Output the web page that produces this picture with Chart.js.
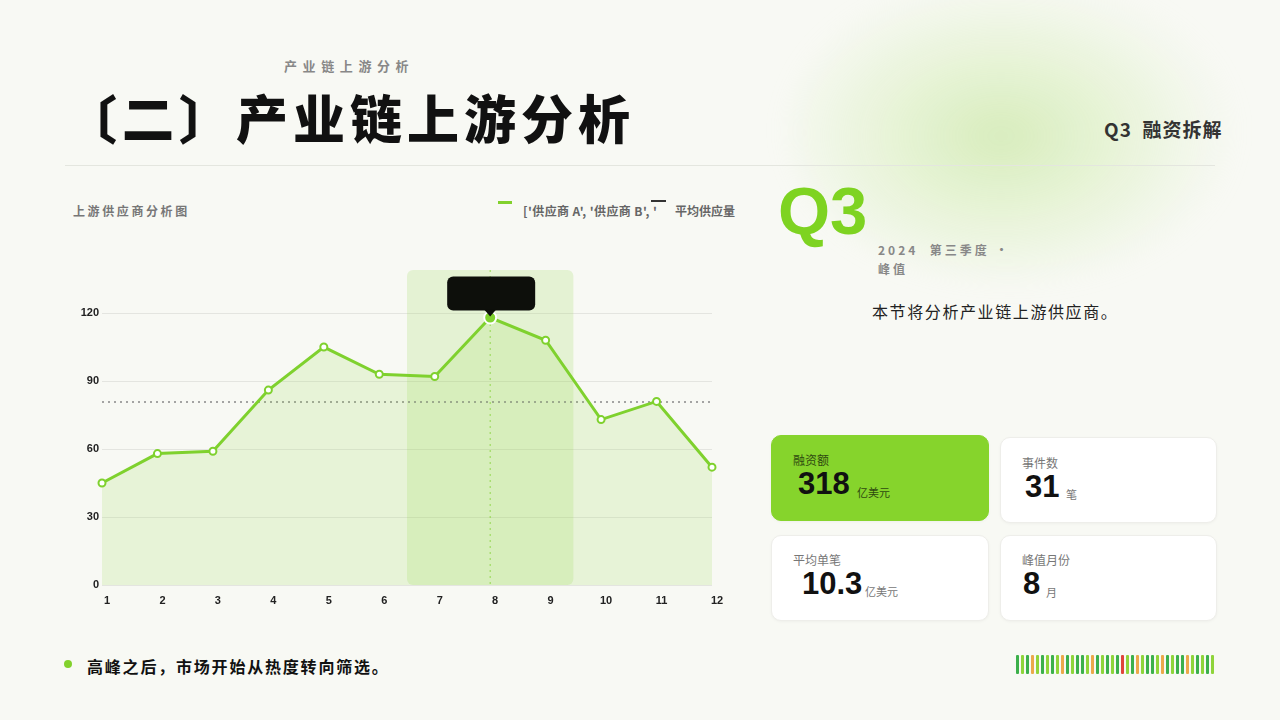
<!DOCTYPE html>
<html>
<head>
<meta charset="utf-8">
<script src="https://cdn.jsdelivr.net/npm/chart.js@4.4.1/dist/chart.umd.min.js"></script>
<style>
  html, body { margin:0; padding:0; }
  body { width:1280px; height:720px; background:#f8f9f4; position:relative; overflow:hidden;
         font-family:"Noto Sans CJK SC","Noto Sans",sans-serif; }
  .abs { position:absolute; white-space:nowrap; }
  .blob { position:absolute; left:790px; top:-20px; width:440px; height:300px; border-radius:50%;
          background:radial-gradient(ellipse at 48% 52%, rgba(175,222,120,0.45) 0%, rgba(195,232,150,0.3) 35%, rgba(222,241,205,0.12) 65%, rgba(248,249,244,0) 82%);
          filter:blur(12px); }
  .card { position:absolute; border-radius:10px; background:#fff; border:1px solid #eeeeea;
          box-shadow:0 1px 3px rgba(0,0,0,0.04); }
  .card.green { background:#86d42c; border-color:#86d42c; }
  .lbl { position:absolute; font-size:12px; color:#777; }
  .num { position:absolute; font-family:"Liberation Sans",Arial,sans-serif; font-weight:bold; font-size:31px; color:#111; }
  .unit { position:absolute; font-size:11px; color:#777; }
  #chartWrap { position:absolute; left:60px; top:250px; width:670px; height:365px; }
  .deco span { position:absolute; top:655px; width:3px; height:19px; border-radius:1px; }
</style>
</head>
<body>
<div class="blob"></div>

<div class="abs" style="left:284px;top:56px;font-size:13px;font-weight:bold;color:#888;letter-spacing:5.6px;">产业链上游分析</div>
<div class="abs" style="left:65px;top:82px;font-size:52px;font-weight:900;color:#111;letter-spacing:5px;line-height:70px;">〔二〕产业链上游分析</div>
<div class="abs" style="left:1104px;top:115px;font-size:19px;font-weight:bold;color:#333;letter-spacing:1px;">Q3&nbsp; 融资拆解</div>
<div class="abs" style="left:65px;top:165px;width:1150px;height:1px;background:#e4e6df;"></div>

<div class="abs" style="left:73px;top:202px;font-size:12px;font-weight:bold;color:#777;letter-spacing:2.6px;">上游供应商分析图</div>
<div class="abs" style="left:498px;top:201px;width:14px;height:3px;background:#82d12c;"></div>
<div class="abs" style="left:523px;top:202px;font-size:12px;font-weight:bold;color:#666;letter-spacing:0.4px;font-family:'Liberation Sans Narrow','Noto Sans CJK SC',sans-serif;">['供应商 A', '供应商 B', '</div>
<div class="abs" style="left:651px;top:200px;width:15px;height:2px;background:#333;"></div>
<div class="abs" style="left:675px;top:202px;font-size:12px;font-weight:bold;color:#666;">平均供应量</div>

<div id="chartWrap"><canvas id="c"></canvas></div>

<div class="abs" style="left:778px;top:166px;font-size:67px;font-weight:bold;color:#7ed321;font-family:'Liberation Sans',Arial,sans-serif;line-height:90px;">Q3</div>
<div class="abs" style="left:878px;top:240px;font-size:12px;font-weight:bold;color:#888;letter-spacing:3px;line-height:19px;">2024&nbsp; 第三季度 ·<br>峰值</div>
<div class="abs" style="left:872px;top:299px;font-size:16px;color:#222;letter-spacing:1.6px;">本节将分析产业链上游供应商。</div>

<div class="card green" style="left:771px;top:435px;width:216px;height:84px;"></div>
<div class="lbl" style="left:793px;top:451px;color:#2f4a10;">融资额</div>
<div class="num" style="left:798px;top:466px;">318</div>
<div class="unit" style="left:857px;top:484px;color:#2f4a10;">亿美元</div>

<div class="card" style="left:1000px;top:437px;width:215px;height:84px;"></div>
<div class="lbl" style="left:1022px;top:454px;">事件数</div>
<div class="num" style="left:1025px;top:469px;">31</div>
<div class="unit" style="left:1066px;top:486px;">笔</div>

<div class="card" style="left:771px;top:535px;width:216px;height:84px;"></div>
<div class="lbl" style="left:793px;top:551px;">平均单笔</div>
<div class="num" style="left:802px;top:566px;">10.3</div>
<div class="unit" style="left:865px;top:583px;">亿美元</div>

<div class="card" style="left:1000px;top:535px;width:215px;height:84px;"></div>
<div class="lbl" style="left:1022px;top:551px;">峰值月份</div>
<div class="num" style="left:1023px;top:566px;">8</div>
<div class="unit" style="left:1046px;top:584px;">月</div>

<div class="abs" style="left:64px;top:660px;width:8px;height:8px;border-radius:50%;background:#82d12c;"></div>
<div class="abs" style="left:87px;top:654px;font-size:16px;font-weight:bold;color:#111;letter-spacing:1.8px;">高峰之后，市场开始从热度转向筛选。</div>

<div class="deco" id="deco"></div>

<script>
// chart data
const months = ['1','2','3','4','5','6','7','8','9','10','11','12'];
const supplyValues = [45, 58, 59, 86, 105, 93, 92, 118, 108, 73, 81, 52];
const avgValues = [80.8, 80.8, 80.8, 80.8, 80.8, 80.8, 80.8, 80.8, 80.8, 80.8, 80.8, 80.8];
const yTicks = [0, 30, 60, 90, 120];
const bandMonths = ['7', '9'];
const peakMonth = '8';

// little stripe row at bottom right
const decoColors = ['d','l','d','o','l','d','l','d','l','o','d','l','d','d','l','o','d','l','d','l',
                    'd','r','l','d','o','l','d','d','l','o','d','l','d','d','o','l','d','l','d','l'];
const decoMap = { d:'#3cb04a', l:'#8fd43a', o:'#eba94a', r:'#e0453a' };

const green = '#7fd12e';

function buildDeco() {
  const el = document.getElementById('deco');
  decoColors.forEach((c, i) => {
    const s = document.createElement('span');
    s.style.left = (1016 + i * 5) + 'px';
    s.style.background = decoMap[c];
    el.appendChild(s);
  });
}

// band + dotted marker behind the line
const bandPlugin = {
  id: 'band',
  beforeDatasetsDraw(chart) {
    const { ctx, chartArea, scales } = chart;
    const x0 = scales.x.getPixelForValue(months.indexOf(bandMonths[0]) - 0.5);
    const x1 = scales.x.getPixelForValue(months.indexOf(bandMonths[1]) + 0.5);
    ctx.save();
    ctx.fillStyle = 'rgba(150,215,80,0.2)';
    ctx.beginPath();
    ctx.roundRect(x0, chartArea.top, x1 - x0, chartArea.bottom - chartArea.top, 6);
    ctx.fill();
    const px = scales.x.getPixelForValue(months.indexOf(peakMonth));
    ctx.strokeStyle = 'rgba(127,209,46,0.8)';
    ctx.setLineDash([2, 4]);
    ctx.lineWidth = 1;
    ctx.beginPath();
    ctx.moveTo(px, chartArea.top);
    ctx.lineTo(px, chartArea.bottom);
    ctx.stroke();
    ctx.restore();
  },
  afterDatasetsDraw(chart) {
    // black callout above the peak
    const { ctx } = chart;
    const i = months.indexOf(peakMonth);
    const pt = chart.getDatasetMeta(0).data[i];
    ctx.save();
    ctx.fillStyle = '#0d0f0b';
    const w = 88, h = 34;
    ctx.beginPath();
    ctx.roundRect(pt.x - 43, pt.y - 41, w, h, 6);
    ctx.fill();
    ctx.beginPath();
    ctx.moveTo(pt.x - 6, pt.y - 8);
    ctx.lineTo(pt.x + 6, pt.y - 8);
    ctx.lineTo(pt.x, pt.y - 1);
    ctx.closePath();
    ctx.fill();
    ctx.restore();
  }
};

function initChart() {
  const peakIdx = months.indexOf(peakMonth);
  new Chart(document.getElementById('c'), {
    type: 'line',
    data: {
      labels: months,
      datasets: [
        {
          label: '供应商',
          data: supplyValues,
          borderColor: green,
          borderWidth: 3,
          backgroundColor: 'rgba(140,210,70,0.16)',
          fill: 'origin',
          tension: 0,
          pointRadius: months.map((_, i) => i === peakIdx ? 6 : 3.5),
          pointBackgroundColor: months.map((_, i) => i === peakIdx ? green : '#ffffff'),
          pointBorderColor: months.map((_, i) => i === peakIdx ? '#ffffff' : green),
          pointBorderWidth: 2,
          order: 1
        },
        {
          label: '平均供应量',
          data: avgValues,
          borderColor: '#888888',
          borderWidth: 1.5,
          borderDash: [2, 4],
          pointRadius: 0,
          fill: false,
          order: 2
        }
      ]
    },
    options: {
      responsive: true,
      maintainAspectRatio: false,
      animation: false,
      layout: { padding: { top: 20, right: 18, left: 0, bottom: 0 } },
      plugins: { legend: { display: false }, tooltip: { enabled: false } },
      scales: {
        x: {
          grid: { display: false, drawTicks: false },
          border: { display: false },
          ticks: {
            color: '#222', padding: 9, labelOffset: 5, maxRotation: 0,
            font: { family: "'Liberation Sans Narrow','Liberation Sans',sans-serif", size: 11, weight: 'bold' }
          },
          afterFit(s) { s.height = 30; }
        },
        y: {
          min: 0, max: 139,
          grid: { color: 'rgba(0,0,0,0.08)', drawTicks: false },
          border: { display: false },
          ticks: {
            stepSize: 30, includeBounds: false, padding: 3, color: '#222',
            font: { family: "'Liberation Sans Narrow','Liberation Sans',sans-serif", size: 11, weight: 'bold' },
            callback: v => yTicks.includes(v) ? v : ''
          },
          afterFit(s) { s.width = 42; }
        }
      }
    },
    plugins: [bandPlugin]
  });
}

buildDeco();
initChart();
</script>
</body>
</html>
